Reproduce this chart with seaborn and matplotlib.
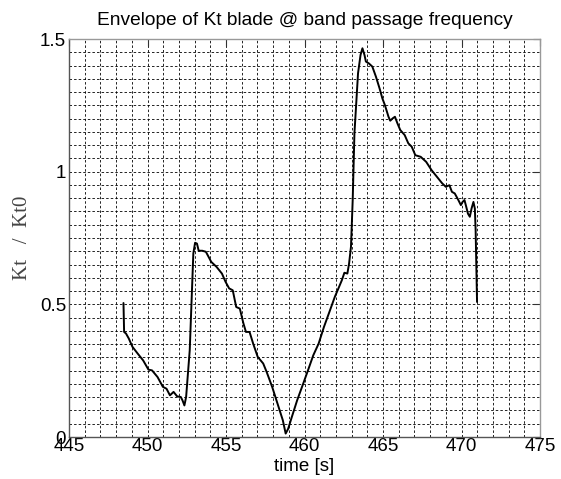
import matplotlib
matplotlib.use("Agg")
import matplotlib.pyplot as plt
from matplotlib.ticker import MultipleLocator
import numpy as np
import pandas as pd
import seaborn as sns

time_s = [448.47, 448.51, 448.63, 448.81, 449.04, 449.38, 449.72, 450.06, 450.29, 450.64,
          450.98, 451.21, 451.43, 451.66, 451.89, 452.12, 452.23, 452.35, 452.46, 452.69,
          452.92, 453.03, 453.15, 453.26, 453.49, 453.72, 454.06, 454.40, 454.74, 454.97,
          455.20, 455.43, 455.65, 455.88, 456.11, 456.27, 456.50, 456.73, 457.02, 457.37,
          457.59, 457.94, 458.28, 458.62, 458.80, 458.96, 459.19, 459.53, 459.88, 460.22,
          460.56, 460.90, 461.24, 461.59, 461.93, 462.16, 462.38, 462.54, 462.73, 462.84,
          462.96, 463.07, 463.18, 463.41, 463.57, 463.69, 463.82, 463.91, 464.10, 464.32,
          464.55, 464.78, 464.96, 465.12, 465.35, 465.46, 465.62, 465.76, 465.92, 466.10,
          466.38, 466.61, 466.83, 467.06, 467.40, 467.75, 468.09, 468.43, 468.77, 469.00,
          469.23, 469.39, 469.57, 469.80, 469.96, 470.07, 470.19, 470.30, 470.41, 470.53,
          470.64, 470.76, 470.85, 470.90, 470.99]
kt_ratio = [0.505, 0.396, 0.390, 0.371, 0.340, 0.314, 0.289, 0.254, 0.251, 0.226,
            0.189, 0.182, 0.157, 0.170, 0.153, 0.151, 0.138, 0.119, 0.151, 0.327,
            0.692, 0.732, 0.729, 0.702, 0.702, 0.698, 0.660, 0.641, 0.616, 0.585,
            0.560, 0.553, 0.490, 0.484, 0.428, 0.396, 0.396, 0.352, 0.302, 0.277,
            0.245, 0.189, 0.126, 0.063, 0.013, 0.031, 0.075, 0.138, 0.195, 0.251,
            0.308, 0.352, 0.415, 0.472, 0.528, 0.560, 0.591, 0.619, 0.616, 0.654,
            0.717, 0.893, 1.144, 1.371, 1.440, 1.465, 1.440, 1.415, 1.408, 1.396,
            1.358, 1.314, 1.276, 1.251, 1.207, 1.192, 1.201, 1.207, 1.182, 1.157,
            1.138, 1.107, 1.094, 1.062, 1.056, 1.037, 1.006, 0.981, 0.956, 0.943,
            0.949, 0.924, 0.918, 0.893, 0.874, 0.886, 0.893, 0.868, 0.842, 0.830,
            0.861, 0.886, 0.861, 0.780, 0.509]

x_ticks = [445, 450, 455, 460, 465, 470, 475]
y_ticks = [0, 0.5, 1, 1.5]
y_tick_labels = ["0", "0.5", "1", "1.5"]

sns.set_theme(style="white")
plt.rcParams["font.family"] = ["Liberation Sans", "DejaVu Sans"]

df = pd.DataFrame({"time": time_s, "kt": kt_ratio})

fig = plt.figure(figsize=(5.61, 4.79), dpi=100)
ax = fig.add_axes([69 / 561, (479 - 437) / 479, (540 - 69) / 561, (437 - 39) / 479])

sns.lineplot(data=df, x="time", y="kt", ax=ax, color="black", linewidth=1.4,
             sort=False, estimator=None, zorder=3)

ax.set_xlim(445, 475)
ax.set_ylim(0, 1.5)
ax.set_xticks(x_ticks)
ax.set_xticklabels([str(t) for t in x_ticks])
ax.set_yticks(y_ticks)
ax.set_yticklabels(y_tick_labels)
ax.xaxis.set_minor_locator(MultipleLocator(1))
ax.yaxis.set_minor_locator(MultipleLocator(0.05))

grid_kw = dict(color="black", linestyle=(0, (3, 2.5)), linewidth=0.6)
ax.grid(True, which="major", **grid_kw)
ax.grid(True, which="minor", **grid_kw)
ax.set_axisbelow(True)

ax.tick_params(which="major", direction="in", length=5, width=0.8, color="#333333",
               top=True, right=True, labelsize=13.5, pad=2, labelcolor="black")
ax.tick_params(axis="x", which="major", pad=1)
ax.tick_params(which="minor", length=0)

for side, sp in ax.spines.items():
    sp.set_visible(True)
    sp.set_color("#555555" if side in ("left", "bottom") else "#999999")
    sp.set_linewidth(1.0)

ax.set_title("Envelope of Kt blade @ band passage frequency", fontsize=13.8,
             color="black", pad=10)
ax.set_xlabel("time [s]", fontsize=13.5, color="black", labelpad=2)
ax.set_ylabel("Kt   /  Kt0", fontsize=15, color="#444444",
              family=["Liberation Serif", "DejaVu Serif"], labelpad=6)

fig.savefig("out.png", dpi=100, facecolor="white")
